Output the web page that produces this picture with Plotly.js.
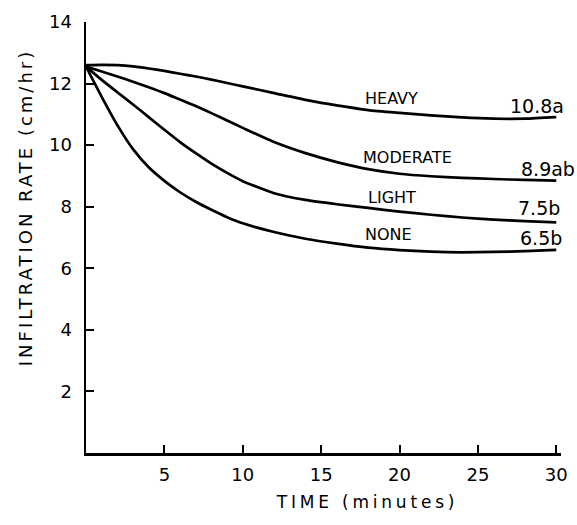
<!DOCTYPE html>
<html>
<head>
<meta charset="utf-8">
<script src="https://cdn.plot.ly/plotly-3.0.1.min.js"></script>
<style>
  html, body { margin: 0; padding: 0; background: #fff; }
  #chart { width: 577px; height: 525px; }
  .xtitle { letter-spacing: 3.8px; }
  .ytitle { letter-spacing: 3px; }
</style>
</head>
<body>
<div id="chart"></div>
<script>
// Time (minutes)
const times = [0, 1, 2, 3, 4, 5, 6, 7, 8, 9, 10, 12, 14, 16, 18, 20, 22, 24, 26, 28, 30];
// Infiltration rate (cm/hr) per grazing intensity
const heavy    = [12.6, 12.61, 12.6, 12.56, 12.49, 12.41, 12.32, 12.23, 12.13, 12.02, 11.91, 11.69, 11.47, 11.29, 11.14, 11.05, 10.97, 10.9, 10.86, 10.86, 10.91];
const moderate = [12.55, 12.39, 12.23, 12.06, 11.88, 11.69, 11.48, 11.27, 11.04, 10.8, 10.56, 10.1, 9.74, 9.45, 9.22, 9.07, 8.99, 8.94, 8.9, 8.87, 8.85];
const light    = [12.55, 12.12, 11.72, 11.32, 10.91, 10.5, 10.1, 9.74, 9.4, 9.1, 8.83, 8.44, 8.22, 8.08, 7.96, 7.84, 7.74, 7.65, 7.58, 7.53, 7.49];
const none     = [12.55, 11.57, 10.65, 9.87, 9.28, 8.84, 8.47, 8.16, 7.9, 7.66, 7.46, 7.18, 6.96, 6.8, 6.67, 6.59, 6.54, 6.52, 6.53, 6.56, 6.6];

const seriesNames = ['HEAVY', 'MODERATE', 'LIGHT', 'NONE'];
const endLabels = ['10.8a', '8.9ab', '7.5b', '6.5b'];
const xTicks = [5, 10, 15, 20, 25, 30];
const yTicks = [2, 4, 6, 8, 10, 12, 14];

const FONT = '"DejaVu Sans", "Liberation Sans", sans-serif';
const allSeries = [heavy, moderate, light, none];

const traces = allSeries.map((ys, i) => ({
  x: times,
  y: ys,
  name: seriesNames[i],
  type: 'scatter',
  mode: 'lines',
  line: { color: '#000', width: 2.7, shape: 'spline', smoothing: 0.6 },
  hoverinfo: 'skip'
}));

// label placement (layout only)
const namePos = [[19.5, 11.5], [20.5, 9.61], [19.5, 8.31], [19.3, 7.11]];
const endPos  = [[28.8, 11.27], [29.5, 9.22], [28.9, 7.96], [29.0, 6.98]];

const annotations = [];
seriesNames.forEach((n, i) => {
  annotations.push({ x: namePos[i][0], y: namePos[i][1], xref: 'x', yref: 'y', text: n,
    showarrow: false, font: { family: FONT, size: 16, color: '#000' } });
  annotations.push({ x: endPos[i][0], y: endPos[i][1], xref: 'x', yref: 'y', text: endLabels[i],
    showarrow: false, font: { family: FONT, size: 19, color: '#000' } });
});

const axisCommon = {
  showline: true, linecolor: '#000', linewidth: 2.5,
  ticks: 'inside', ticklen: 8, tickwidth: 2, tickcolor: '#000',
  showgrid: false, zeroline: false,
  tickfont: { family: FONT, size: 18, color: '#000' }
};

const layout = {
  width: 577, height: 525,
  margin: { l: 86, r: 16, t: 22, b: 72 },
  paper_bgcolor: '#fff', plot_bgcolor: '#fff',
  showlegend: false,
  font: { family: FONT, color: '#000' },
  xaxis: Object.assign({}, axisCommon, {
    range: [0, 30.3], tickvals: xTicks, ticktext: xTicks.map(String),
    ticklabelstandoff: 4,
    title: { text: 'TIME (minutes)', font: { family: FONT, size: 17, color: '#000' }, standoff: 12 }
  }),
  yaxis: Object.assign({}, axisCommon, {
    range: [0, 14], tickvals: yTicks, ticktext: yTicks.map(String),
    ticklabelstandoff: 8,
    title: { text: 'INFILTRATION RATE (cm/hr)', font: { family: FONT, size: 18, color: '#000' }, standoff: 12 }
  }),
  annotations: annotations
};

Plotly.newPlot('chart', traces, layout, { displayModeBar: false, staticPlot: true }).then(() => {
  const xt = document.querySelector('.xtitle');
  if (xt) xt.setAttribute('transform', 'translate(44,0) ' + (xt.getAttribute('transform') || ''));
  const yt = document.querySelector('.ytitle');
  if (yt) yt.setAttribute('transform', 'translate(0,-30) ' + (yt.getAttribute('transform') || ''));
});
</script>
</body>
</html>
